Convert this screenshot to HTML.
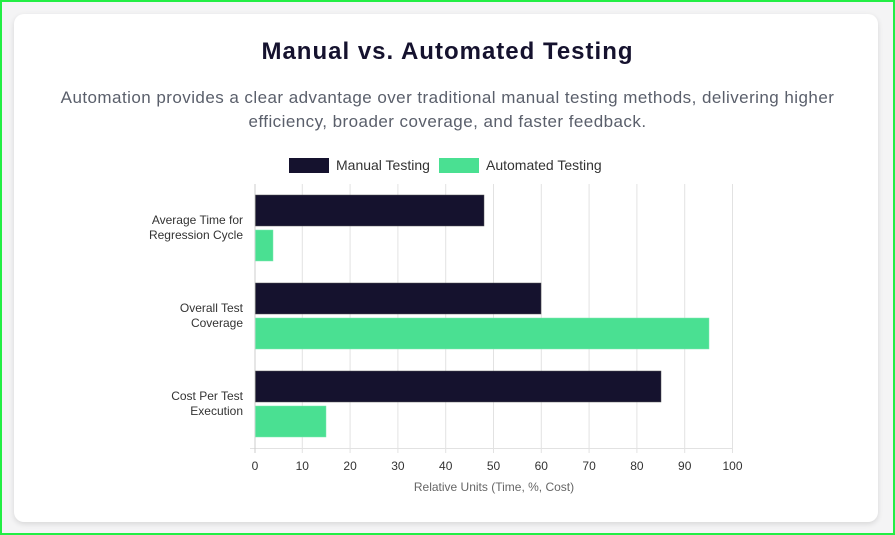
<!DOCTYPE html>
<html><head><style>
html,body{margin:0;padding:0;}
body{width:895px;height:535px;background:#f4f4f5;position:relative;overflow:hidden;font-family:"Liberation Sans",sans-serif;}
.frame{position:absolute;left:0;top:0;width:891px;height:531px;border:2px solid #22ee44;}
.card{position:absolute;left:14px;top:14px;width:864px;height:508px;background:#fff;border-radius:10px;box-shadow:0 2px 6px rgba(0,0,0,0.12);}
h1{position:absolute;left:0;width:895px;top:38px;margin:0;text-align:center;font-size:24px;letter-spacing:1px;font-weight:bold;color:#15122e;}
p{position:absolute;left:45px;width:805px;top:86px;margin:0;text-align:center;font-size:17px;letter-spacing:0.45px;line-height:24px;color:#5a5f6b;}
svg{position:absolute;left:0;top:0;}
</style></head><body>
<div class="frame"></div>
<div class="card"></div>
<h1>Manual vs. Automated Testing</h1>
<p>Automation provides a clear advantage over traditional manual testing methods, delivering higher efficiency, broader coverage, and faster feedback.</p>
<svg width="895" height="535" font-family="Liberation Sans, sans-serif">
<rect x="289" y="158" width="40" height="15" fill="#15122e"/>
<text x="336" y="170" font-size="14" fill="#333">Manual Testing</text>
<rect x="439" y="158" width="40" height="15" fill="#4ae092"/>
<text x="486" y="170" font-size="14" fill="#333">Automated Testing</text>
<g stroke="#e2e2e2" stroke-width="1">
<line x1="302.3" y1="184" x2="302.3" y2="453"/><line x1="350.1" y1="184" x2="350.1" y2="453"/>
<line x1="397.9" y1="184" x2="397.9" y2="453"/><line x1="445.7" y1="184" x2="445.7" y2="453"/>
<line x1="493.5" y1="184" x2="493.5" y2="453"/><line x1="541.3" y1="184" x2="541.3" y2="453"/>
<line x1="589.1" y1="184" x2="589.1" y2="453"/><line x1="636.9" y1="184" x2="636.9" y2="453"/>
<line x1="684.7" y1="184" x2="684.7" y2="453"/><line x1="732.5" y1="184" x2="732.5" y2="453"/>
<line x1="250" y1="448.5" x2="733" y2="448.5"/>
<line x1="255" y1="184" x2="255" y2="453" stroke="#ccc"/>
</g>
<g fill="#15122e" stroke="#555" stroke-width="0.5">
<rect x="255.5" y="195" width="228.5" height="31"/>
<rect x="255.5" y="283" width="285.5" height="31"/>
<rect x="255.5" y="371" width="405.5" height="31"/>
</g>
<g fill="#4ae092" stroke="#7ee8b0" stroke-width="0.5">
<rect x="255.5" y="230" width="17.5" height="31"/>
<rect x="255.5" y="318" width="453.5" height="31"/>
<rect x="255.5" y="406" width="70.5" height="31"/>
</g>
<g font-size="12" fill="#333" text-anchor="end">
<text x="243" y="224">Average Time for</text><text x="243" y="239">Regression Cycle</text>
<text x="243" y="312">Overall Test</text><text x="243" y="327">Coverage</text>
<text x="243" y="400">Cost Per Test</text><text x="243" y="415">Execution</text>
</g>
<g font-size="12" fill="#333" text-anchor="middle">
<text x="255" y="470">0</text><text x="302.3" y="470">10</text><text x="350.1" y="470">20</text>
<text x="397.9" y="470">30</text><text x="445.7" y="470">40</text><text x="493.5" y="470">50</text>
<text x="541.3" y="470">60</text><text x="589.1" y="470">70</text><text x="636.9" y="470">80</text>
<text x="684.7" y="470">90</text><text x="732.5" y="470">100</text>
<text x="494" y="491" font-size="12" fill="#666">Relative Units (Time, %, Cost)</text>
</g>
</svg>
</body></html>
